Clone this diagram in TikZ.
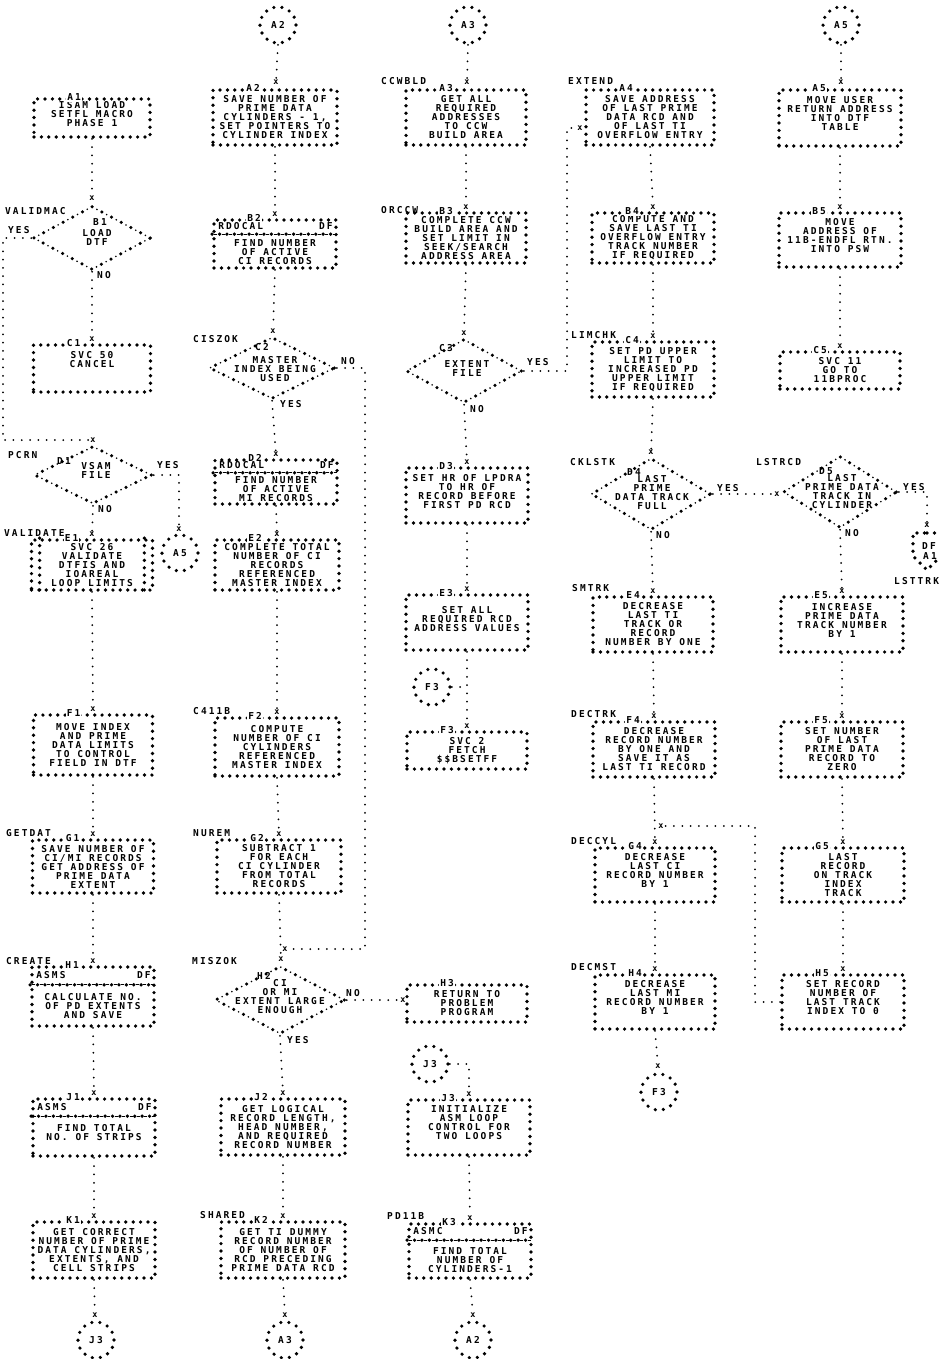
\documentclass[tikz,border=0pt]{standalone}
\usepackage{fontspec}
\newfontfamily\lpf[LetterSpace=22]{DejaVu Sans Mono}
\usetikzlibrary{shapes.geometric,calc}
\newcommand\pf{\lpf\bfseries\fontsize{9.5pt}{9pt}\selectfont}
\newcommand\pfx{\lpf\bfseries\fontsize{8.5pt}{8pt}\selectfont}

\tikzset{
  txt/.style={inner sep=0pt, font=\pf, align=center},
  pbox/.style={draw, line width=3.7pt, line cap=round, dash pattern=on 0pt off 7.4pt, inner sep=0pt, align=center, font=\pf},
  idl/.style={fill=white, inner sep=1pt, font=\pf},
  xmk/.style={inner sep=0.6pt, font=\pfx},
  conn/.style={line width=2pt, line cap=round, dash pattern=on 0pt off 8.3pt},
  bigdots/.style={line width=3.7pt, line cap=round, dash pattern=on 0pt off 7.4pt},
  sepdash/.style={line width=1pt, dash pattern=on 0pt off 2.2pt on 3pt off 2.2pt},
  lab/.style={inner sep=0pt, anchor=west, font=\pf},
  dia/.style={shape=diamond, inner sep=0pt, draw, line width=3.5pt, line cap=round,
     dash pattern=on 0pt off 11pt,
     postaction={draw, line width=1.8pt, line cap=round, dash pattern=on 0pt off 11pt, dash phase=5.5pt}},
  cir/.style={circle, draw, line width=3.6pt, line cap=round, dash pattern=on 0pt off 8.1pt,
     minimum size=36pt, inner sep=0pt, font=\pf},
}

% name, cx, top, bottom, width, id, text
\newcommand\fbx[7]{%
  \node[pbox, minimum width=#5, minimum height={#4-#3}] (#1) at (#2,{(#3+#4)/2}) {#7};
  \node[idl] (#1l) at ($(#1.north west)+(42,0)$) {#6};}
% name, cx, top, bottom, id, header, text
\newcommand\hbx[7]{%
  \pgfmathsetmacro\hpx{(#4-#3)/6}%
  \node[pbox, minimum width=122, minimum height={#4-#3}] (#1) at (#2,{(#3+#4)/2}) {};
  \node[idl] (#1l) at ($(#1.north west)+(42,0)$) {#5};
  \node[txt, anchor=west] (#1h) at ($(#1.north west)+(6,\hpx)$) {#6};
  \node[txt, anchor=east] (#1d) at ($(#1.north east)+(-5,\hpx)$) {DF};
  \draw[bigdots] ($(#1.north west)+(0,2*\hpx)$) -- ($(#1.north east)+(0,2*\hpx)$);
  \draw[sepdash] ($(#1.north west)+(0,2*\hpx)$) -- ($(#1.north east)+(0,2*\hpx)$);
  \node[txt] (#1t) at (#2,{(#3+2*\hpx+#4)/2}) {#7};}
\newcommand\xmk[3]{\node[xmk] (#1) at (#2,#3) {x};}

\begin{document}
\begin{tikzpicture}[x=1pt,y=-1pt]
\useasboundingbox (0,0) rectangle (938,1359);
\fill[white] (0,0) rectangle (938,1359);

% ---------- top connectors
\node[cir] (A2c) at (278,25) {A2};
\node[cir] (A3c) at (468,25) {A3};
\node[cir] (A5c) at (841,25) {A5};

% ---------- row A
\fbx{A1}{92}{99}{137}{116}{A1}{ISAM LOAD\\SETFL MACRO\\PHASE 1\\\mbox{}}
\fbx{A2}{275}{90}{145}{124}{A2}{SAVE NUMBER OF\\PRIME DATA\\CYLINDERS - 1,\\SET POINTERS TO\\CYLINDER INDEX}
\fbx{A3}{466}{90}{145}{120}{A3}{GET ALL\\REQUIRED\\ADDRESSES\\TO CCW\\BUILD AREA}
\fbx{A4}{650}{90}{145}{128}{A4}{SAVE ADDRESS\\OF LAST PRIME\\DATA RCD AND\\OF LAST TI\\OVERFLOW ENTRY}
\fbx{A5}{840}{90}{146}{122}{A5}{MOVE USER\\RETURN ADDRESS\\INTO DTF\\TABLE\\\mbox{}}

% ---------- row B
\node[dia, minimum width=118, minimum height=64] (B1) at (92,238) {};
\node[txt] (B1l) at (100,222) {B1};
\node[txt] (B1t) at (97,237) {LOAD\\DTF};
\hbx{B2}{275}{220}{268}{B2}{RDOCAL}{FIND NUMBER\\OF ACTIVE\\CI RECORDS}
\fbx{B3}{466}{213}{263}{120}{B3}{COMPLETE CCW\\BUILD AREA AND\\SET LIMIT IN\\SEEK/SEARCH\\ADDRESS AREA}
\fbx{B4}{653}{213}{263}{122}{B4}{COMPUTE AND\\SAVE LAST TI\\OVERFLOW ENTRY\\TRACK NUMBER\\IF REQUIRED}
\fbx{B5}{840}{213}{267}{122}{B5}{MOVE\\ADDRESS OF\\11B-ENDFL RTN.\\INTO PSW\\\mbox{}}

% ---------- row C
\fbx{C1}{92}{345}{392}{117}{C1}{SVC 50\\CANCEL\\\mbox{}\\\mbox{}}
\node[dia, minimum width=126, minimum height=62] (C2) at (272,368) {};
\node[txt] (C2l) at (262,347) {C2};
\node[txt] (C2t) at (275,369) {MASTER\\INDEX BEING\\USED};
\node[dia, minimum width=116, minimum height=64] (C3) at (464,371) {};
\node[txt] (C3l) at (446,348) {C3};
\node[txt] (C3t) at (467,369) {EXTENT\\FILE};
\fbx{C4}{653}{342}{397}{122}{C4}{SET PD UPPER\\LIMIT TO\\INCREASED PD\\UPPER LIMIT\\IF REQUIRED}
\fbx{C5}{840}{352}{389}{120}{C5}{SVC 11\\GO TO\\11BPROC}

% ---------- row D
\node[dia, minimum width=118, minimum height=58] (D1) at (93,475) {};
\node[txt] (D1l) at (64,461) {D1};
\node[txt] (D1t) at (96,470) {VSAM\\FILE};
\hbx{D2}{276}{460}{504}{D2}{RDOCAL}{FIND NUMBER\\OF ACTIVE\\MI RECORDS}
\fbx{D3}{467}{468}{523}{122}{D3}{SET HR OF LPDRA\\TO HR OF\\RECORD BEFORE\\FIRST PD RCD\\\mbox{}}
\node[dia, minimum width=120, minimum height=72] (D4) at (651,494) {};
\node[txt] (D4l) at (634,472) {D4};
\node[txt] (D4t) at (652,493) {LAST\\PRIME\\DATA TRACK\\FULL};
\node[dia, minimum width=114, minimum height=72] (D5) at (840,492) {};
\node[txt] (D5l) at (826,471) {D5};
\node[txt] (D5t) at (842,492) {LAST\\PRIME DATA\\TRACK IN\\CYLINDER};
\node[cir] (A5b) at (180,553) {A5};
\coordinate (DFc) at (927,533);
\draw[bigdots] (DFc) -- (941,533) -- (941,556) -- (927,570) -- (913,556) -- (913,533) -- cycle;
\node[txt] (DFt) at (929,546) {DF};
\node[txt] (DFa) at (930,556) {A1};

% ---------- row E
\fbx{E1}{92}{540}{590}{121}{E1}{SVC 26\\VALIDATE\\DTFIS AND\\IOAREAL\\LOOP LIMITS}
\draw[bigdots] ($(E1.north west)+(10,0)$) -- ($(E1.south west)+(10,0)$);
\draw[bigdots] ($(E1.north east)+(-10,0)$) -- ($(E1.south east)+(-10,0)$);
\fbx{E2}{277}{540}{590}{124}{E2}{COMPLETE TOTAL\\NUMBER OF CI\\RECORDS\\REFERENCED\\MASTER INDEX}
\fbx{E3}{467}{595}{650}{122}{E3}{\mbox{}\\SET ALL\\REQUIRED RCD\\ADDRESS VALUES\\\mbox{}}
\fbx{E4}{653}{597}{652}{120}{E4}{DECREASE\\LAST TI\\TRACK OR\\RECORD\\NUMBER BY ONE}
\fbx{E5}{842}{597}{652}{122}{E5}{INCREASE\\PRIME DATA\\TRACK NUMBER\\BY 1\\\mbox{}}
\node[cir] (F3c) at (432,687) {F3};

% ---------- row F
\fbx{F1}{93}{715}{775}{119}{F1}{MOVE INDEX\\AND PRIME\\DATA LIMITS\\TO CONTROL\\FIELD IN DTF}
\fbx{F2}{277}{718}{776}{124}{F2}{COMPUTE\\NUMBER OF CI\\CYLINDERS\\REFERENCED\\MASTER INDEX}
\fbx{F3}{467}{732}{769}{120}{F3}{SVC 2\\FETCH\\\$\$BSETFF}
\fbx{F4}{654}{722}{777}{122}{F4}{DECREASE\\RECORD NUMBER\\BY ONE AND\\SAVE IT AS\\LAST TI RECORD}
\fbx{F5}{842}{722}{777}{122}{F5}{SET NUMBER\\OF LAST\\PRIME DATA\\RECORD TO\\ZERO}

% ---------- row G
\fbx{G1}{93}{840}{893}{121}{G1}{SAVE NUMBER OF\\CI/MI RECORDS\\GET ADDRESS OF\\PRIME DATA\\EXTENT}
\fbx{G2}{279}{840}{893}{124}{G2}{SUBTRACT 1\\FOR EACH\\CI CYLINDER\\FROM TOTAL\\RECORDS}
\fbx{G4}{655}{848}{902}{120}{G4}{DECREASE\\LAST CI\\RECORD NUMBER\\BY 1\\\mbox{}}
\fbx{G5}{843}{848}{902}{122}{G5}{LAST\\RECORD\\ON TRACK\\INDEX\\TRACK}

% ---------- row H
\hbx{H1}{93}{967}{1026}{H1}{ASMS}{CALCULATE NO.\\OF PD EXTENTS\\AND SAVE}
\node[dia, minimum width=130, minimum height=68] (H2) at (280,1000) {};
\node[txt] (H2l) at (264,976) {H2};
\node[txt] (H2t) at (280,997) {CI\\OR MI\\EXTENT LARGE\\ENOUGH};
\fbx{H3}{467}{985}{1022}{120}{H3}{RETURN TO\\PROBLEM\\PROGRAM}
\fbx{H4}{655}{975}{1029}{120}{H4}{DECREASE\\LAST MI\\RECORD NUMBER\\BY 1\\\mbox{}}
\fbx{H5}{843}{975}{1029}{122}{H5}{SET RECORD\\NUMBER OF\\LAST TRACK\\INDEX TO 0\\\mbox{}}
\node[cir] (F3d) at (659,1092) {F3};
\node[cir] (J3c) at (430,1064) {J3};

% ---------- row J
\hbx{J1}{94}{1099}{1156}{J1}{ASMS}{FIND TOTAL\\NO. OF STRIPS\\\mbox{}}
\fbx{J2}{283}{1099}{1155}{124}{J2}{GET LOGICAL\\RECORD LENGTH,\\HEAD NUMBER,\\AND REQUIRED\\RECORD NUMBER}
\fbx{J3}{469}{1100}{1155}{122}{J3}{INITIALIZE\\ASM LOOP\\CONTROL FOR\\TWO LOOPS\\\mbox{}}

% ---------- row K
\fbx{K1}{94}{1222}{1278}{122}{K1}{GET CORRECT\\NUMBER OF PRIME\\DATA CYLINDERS,\\EXTENTS, AND\\CELL STRIPS}
\fbx{K2}{283}{1222}{1278}{124}{K2}{GET TI DUMMY\\RECORD NUMBER\\OF NUMBER OF\\RCD PRECEDING\\PRIME DATA RCD}
\hbx{K3}{470}{1224}{1278}{K3}{ASMC}{FIND TOTAL\\NUMBER OF\\CYLINDERS-1}

% ---------- bottom connectors
\node[cir] (J3b) at (96,1340) {J3};
\node[cir] (A3b) at (285,1340) {A3};
\node[cir] (A2b) at (473,1340) {A2};

% ---------- entry names
\node[lab] (nVALIDMAC) at (5,211) {VALIDMAC};
\node[lab] (nCCWBLD) at (381,81) {CCWBLD};
\node[lab] (nEXTEND) at (568,81) {EXTEND};
\node[lab] (nORCCW) at (381,210) {ORCCW};
\node[lab] (nCISZOK) at (193,339) {CISZOK};
\node[lab] (nLIMCHK) at (571,335) {LIMCHK};
\node[lab] (nPCRN) at (8,455) {PCRN};
\node[lab] (nCKLSTK) at (570,462) {CKLSTK};
\node[lab] (nLSTRCD) at (756,462) {LSTRCD};
\node[lab] (nVALIDATE) at (4,533) {VALIDATE};
\node[lab] (nSMTRK) at (572,588) {SMTRK};
\node[lab] (nLSTTRK) at (894,581) {LSTTRK};
\node[lab] (nC411B) at (193,711) {C411B};
\node[lab] (nDECTRK) at (571,714) {DECTRK};
\node[lab] (nGETDAT) at (6,833) {GETDAT};
\node[lab] (nNUREM) at (193,833) {NUREM};
\node[lab] (nDECCYL) at (571,841) {DECCYL};
\node[lab] (nCREATE) at (6,961) {CREATE};
\node[lab] (nMISZOK) at (192,961) {MISZOK};
\node[lab] (nDECMST) at (571,967) {DECMST};
\node[lab] (nSHARED) at (200,1215) {SHARED};
\node[lab] (nPD11B) at (387,1216) {PD11B};

% ---------- decision labels
\node[lab] (yB1) at (8,230) {YES};
\node[lab] (nB1) at (97,275) {NO};
\node[lab] (nC2) at (341,361) {NO};
\node[lab] (yC2) at (280,404) {YES};
\node[lab] (yC3) at (527,362) {YES};
\node[lab] (nC3) at (470,409) {NO};
\node[lab] (yD1) at (157,465) {YES};
\node[lab] (nD1) at (98,509) {NO};
\node[lab] (yD4) at (717,488) {YES};
\node[lab] (nD4) at (656,535) {NO};
\node[lab] (yD5) at (903,487) {YES};
\node[lab] (nD5) at (845,533) {NO};
\node[lab] (nH2) at (346,993) {NO};
\node[lab] (yH2) at (287,1040) {YES};

% ---------- x marks
\xmk{xB1}{92}{198}
\xmk{xC1}{92}{339}
\xmk{xD1}{93}{440}
\xmk{xE1}{92}{534}
\xmk{xF1}{93}{709}
\xmk{xG1}{93}{834}
\xmk{xH1}{93}{961}
\xmk{xJ1}{94}{1093}
\xmk{xK1}{94}{1216}
\xmk{xJ3b}{95}{1315}
\xmk{xA5b}{179}{529}
\xmk{xA2}{276}{82}
\xmk{xB2}{275}{214}
\xmk{xC2}{273}{331}
\xmk{xD2}{276}{454}
\xmk{xE2}{277}{534}
\xmk{xF2}{277}{712}
\xmk{xG2}{279}{834}
\xmk{xJn}{285}{949}
\xmk{xH2}{281}{959}
\xmk{xJ2}{283}{1093}
\xmk{xK2}{283}{1216}
\xmk{xA3b}{285}{1315}
\xmk{xA3}{467}{82}
\xmk{xB3}{466}{207}
\xmk{xC3}{464}{333}
\xmk{xD3}{467}{462}
\xmk{xE3}{467}{589}
\xmk{xF3}{467}{726}
\xmk{xH3}{403}{1000}
\xmk{xJ3}{469}{1094}
\xmk{xK3}{470}{1218}
\xmk{xA2b}{473}{1315}
\xmk{xA4}{580}{128}
\xmk{xB4}{653}{207}
\xmk{xC4}{653}{336}
\xmk{xD4}{651}{452}
\xmk{xE4}{653}{591}
\xmk{xF4}{654}{716}
\xmk{xG4j}{661}{826}
\xmk{xG4}{655}{842}
\xmk{xH4}{655}{969}
\xmk{xF3d}{658}{1066}
\xmk{xA5}{841}{82}
\xmk{xB5}{840}{207}
\xmk{xC5}{840}{346}
\xmk{xD5}{777}{494}
\xmk{xE5}{842}{591}
\xmk{xF5}{842}{716}
\xmk{xG5}{843}{842}
\xmk{xH5}{843}{969}
\xmk{xDF}{927}{525}
\coordinate (jF3) at (467,687);

% ---------- connectors column 1
\draw[conn] (A1.south) -- (xB1);
\draw[conn] (B1.south) -- (xC1);
\draw[conn] (B1.west) -- (3,238) |- (xD1);
\draw[conn] (D1.south) -- (xE1);
\draw[conn] (D1.east) -| (xA5b);
\draw[conn] (E1.south) -- (xF1);
\draw[conn] (F1.south) -- (xG1);
\draw[conn] (G1.south) -- (xH1);
\draw[conn] (H1.south) -- (xJ1);
\draw[conn] (J1.south) -- (xK1);
\draw[conn] (K1.south) -- (xJ3b);
% column 2
\draw[conn] (A2c.south) -- (xA2);
\draw[conn] (A2.south) -- (xB2);
\draw[conn] (B2.south) -- (xC2);
\draw[conn] (C2.south) -- (xD2);
\draw[conn] (C2.east) -- (365,368) |- (xJn);
\draw[conn] (D2.south) -- (xE2);
\draw[conn] (E2.south) -- (xF2);
\draw[conn] (F2.south) -- (xG2);
\draw[conn] (G2.south) -- (xH2);
\draw[conn] (H2.south) -- (xJ2);
\draw[conn] (H2.east) -- (xH3);
\draw[conn] (J2.south) -- (xK2);
\draw[conn] (K2.south) -- (xA3b);
% column 3
\draw[conn] (A3c.south) -- (xA3);
\draw[conn] (A3.south) -- (xB3);
\draw[conn] (B3.south) -- (xC3);
\draw[conn] (C3.south) -- (xD3);
\draw[conn] (C3.east) -- (567,371) |- (xA4);
\draw[conn] (D3.south) -- (xE3);
\draw[conn] (E3.south) -- (xF3);
\draw[conn] (F3c.east) -- (jF3);
\draw[conn] (J3c.east) -| (xJ3);
\draw[conn] (J3.south) -- (xK3);
\draw[conn] (K3.south) -- (xA2b);
% column 4
\draw[conn] (A4.south) -- (xB4);
\draw[conn] (B4.south) -- (xC4);
\draw[conn] (C4.south) -- (xD4);
\draw[conn] (D4.south) -- (xE4);
\draw[conn] (D4.east) -- (xD5);
\draw[conn] (E4.south) -- (xF4);
\draw[conn] (F4.south) -- (xG4);
\draw[conn] (G4.south) -- (xH4);
\draw[conn] (H4.south) -- (xF3d);
% column 5
\draw[conn] (A5c.south) -- (xA5);
\draw[conn] (A5.south) -- (xB5);
\draw[conn] (B5.south) -- (xC5);
\draw[conn] (D5.east) -| (xDF);
\draw[conn] (D5.south) -- (xE5);
\draw[conn] (E5.south) -- (xF5);
\draw[conn] (F5.south) -- (xG5);
\draw[conn] (G5.south) -- (xH5);
\draw[conn] (H5.west) -- (755,1002) |- (xG4j);
\end{tikzpicture}
\end{document}
